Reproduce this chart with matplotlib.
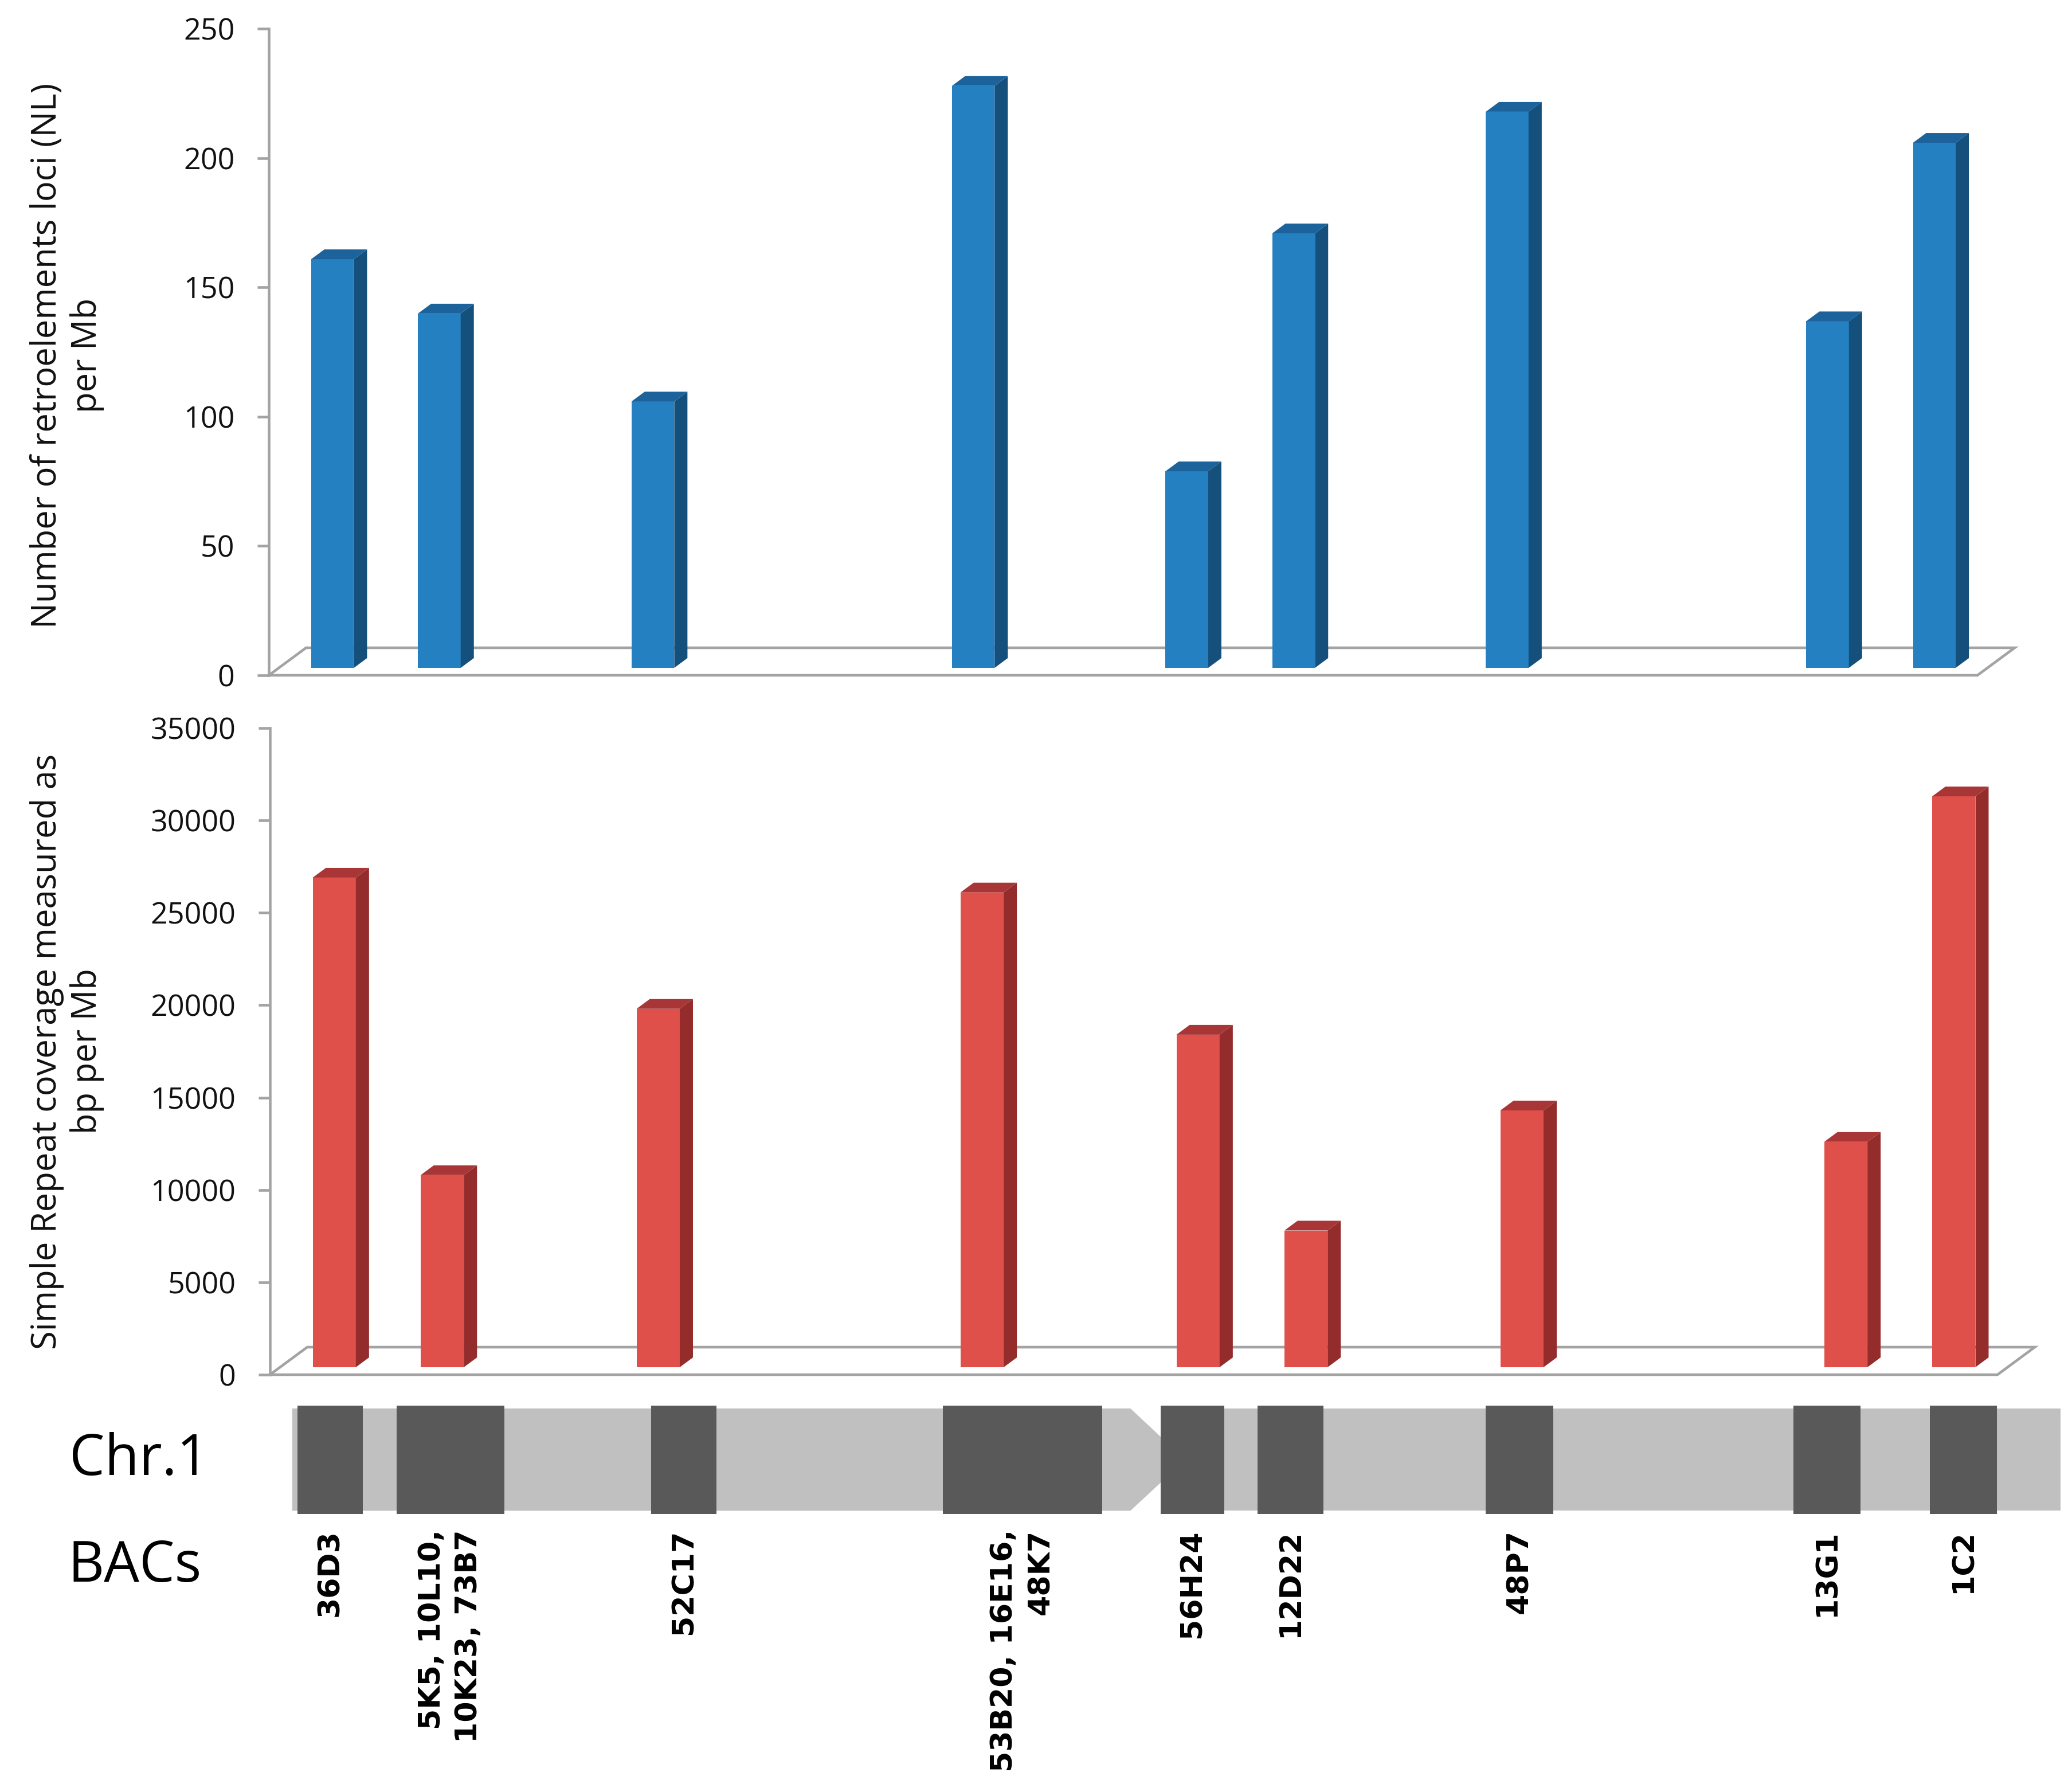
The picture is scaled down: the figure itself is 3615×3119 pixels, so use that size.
import matplotlib
matplotlib.use('Agg')
import matplotlib.pyplot as plt
from matplotlib.transforms import blended_transform_factory

plt.rcParams['font.family'] = ['Open Sans', 'DejaVu Sans']

# BAC clones along chromosome 1 and the slot each one takes in the bar charts
bacs = ['36D3', '5K5, 10L10,\n10K23, 73B7', '52C17', '53B20, 16E16,\n48K7',
        '56H24', '12D22', '48P7', '13G1', '1C2']
bac_slot = [0, 1, 3, 6, 8, 9, 11, 14, 15]
n_slots = 16

# values
retro_nl = [158, 137, 103, 225, 76, 168, 215, 134, 203]
simple_repeat = [26500, 10400, 19400, 25700, 18000, 7400, 13900, 12200, 30900]

# band positions on the chromosome (percent of drawn length)
band_start = [0.3, 5.9, 20.3, 36.8, 49.1, 54.6, 67.5, 84.9, 92.6]
band_end = [4.0, 12.0, 24.0, 45.8, 52.7, 58.3, 71.3, 88.7, 96.4]
centromere = 50.5

W, H, DPI = 3615, 3119, 300
GREY = '#a3a3a3'


def px_rect(left, top, right, bottom):
    return [left / W, 1 - bottom / H, (right - left) / W, (bottom - top) / H]


fig = plt.figure(figsize=(W / DPI, H / DPI), dpi=DPI)


def bar_panel(rect_px, values, ymax, step, colors, ylabel, label_y):
    left, top, right, bottom = rect_px
    ax = fig.add_axes(px_rect(*rect_px))
    ax.set_xlim(0, n_slots)
    ax.set_ylim(0, ymax)
    ux = n_slots / (right - left)   # data units per pixel
    uy = ymax / (bottom - top)
    front, side, cap = colors

    w = 0.40
    shift, base = 18 * ux, 13 * uy
    ddx, ddy = 23 * ux, 17 * uy
    lefts = [s + (1 - w) / 2 + shift for s in bac_slot]
    ax.bar(lefts, values, width=w, bottom=base, align='edge', color=front,
           linewidth=0, zorder=3)
    for l, v in zip(lefts, values):
        t = base + v
        ax.fill([l + w, l + w + ddx, l + w + ddx, l + w], [base, base + ddy, t + ddy, t],
                color=side, lw=0, zorder=3, clip_on=False)
        ax.fill([l, l + w, l + w + ddx, l + ddx], [t, t, t + ddy, t + ddy],
                color=cap, lw=0, zorder=3, clip_on=False)

    # floor of the 3D plot
    fx, fy = 65 * ux, 48 * uy
    ax.plot([0, n_slots, n_slots + fx, fx, 0], [0, 0, fy, fy, 0], color=GREY,
            lw=1.1, zorder=1, clip_on=False, solid_joinstyle='miter')

    for s in ['top', 'right', 'bottom']:
        ax.spines[s].set_visible(False)
    ax.spines['left'].set_color(GREY)
    ax.spines['left'].set_linewidth(1.1)
    ax.set_xticks([])
    ax.set_yticks(range(0, ymax + 1, step))
    ax.tick_params(axis='y', length=4.8, width=1.1, color=GREY, pad=9.5,
                   labelsize=12.5, labelcolor='#111111')
    ax.patch.set_alpha(0)
    fig.text(117 / W, 1 - label_y / H, ylabel, rotation=90, ha='center', va='center',
             multialignment='center', fontsize=14.3, linespacing=1.2, color='#111111')
    return ax


bar_panel((469, 50, 3450, 1178), retro_nl, 250, 50,
          ('#2480c1', '#154f7c', '#1c629b'),
          'Number of retroelements loci (NL)\nper Mb', 620)
bar_panel((471, 1270, 3485, 2398), simple_repeat, 35000, 5000,
          ('#df504b', '#952c2c', '#a93636'),
          'Simple Repeat coverage measured as\nbp per Mb', 1834)

# chromosome ideogram
axc = fig.add_axes(px_rect(510, 2452, 3595, 2641))
axc.set_xlim(0, 100)
axc.set_ylim(0, 1)
axc.axis('off')
a0, a1 = 0.03, 0.974
shoulder = centromere - 3.1
axc.fill([0, shoulder, centromere, shoulder, 0], [a0, a0, 0.5, a1, a1],
         color='#c0c0c0', lw=0, zorder=1)
axc.fill([centromere, 100, 100, centromere], [a0, a0, a1, a1],
         color='#c0c0c0', lw=0, zorder=1)
axc.bar(band_start, 1, width=[e - s for s, e in zip(band_start, band_end)],
        align='edge', color='#595959', linewidth=0, zorder=2)

tr = blended_transform_factory(axc.transData, fig.transFigure)
for s, e, name in zip(band_start, band_end, bacs):
    axc.text((s + e) / 2, 1 - 2668 / H, name, transform=tr, rotation=90,
             ha='center', va='top', multialignment='right', fontsize=12.5,
             fontweight='bold', family='DejaVu Sans', linespacing=1.35)

fig.text(121 / W, 1 - 2547 / H, 'Chr.1', ha='left', va='center', fontsize=23.5)
fig.text(118 / W, 1 - 2733 / H, 'BACs', ha='left', va='center', fontsize=23.5)

fig.savefig('out.png', dpi=DPI)
